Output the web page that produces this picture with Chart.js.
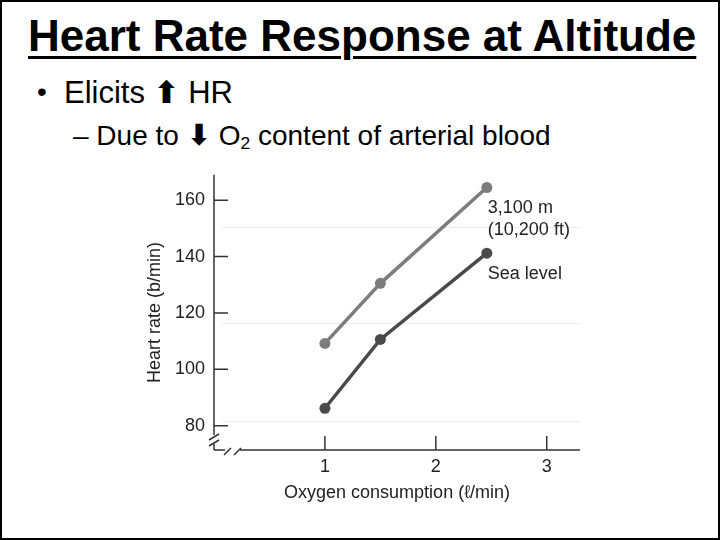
<!DOCTYPE html>
<html>
<head>
<meta charset="utf-8">
<script src="https://cdn.jsdelivr.net/npm/chart.js@4.4.0/dist/chart.umd.min.js"></script>
<style>
  html, body { margin: 0; padding: 0; background: #fff; }
  #slide { position: relative; width: 720px; height: 540px; box-sizing: border-box; border: 2px solid #000; overflow: hidden; font-family: Arial, "Liberation Sans", sans-serif; color: #000; }
  .t { position: absolute; white-space: nowrap; line-height: 1; }
  #title { left: 26px; top: 12px; font-size: 44px; font-weight: bold; text-decoration: underline; text-decoration-thickness: 3px; text-underline-offset: 5px; }
  #bullet { left: 35px; top: 76px; font-size: 28px; }
  #line1 { left: 62px; top: 75px; font-size: 31px; }
  #line2 { left: 71px; top: 119px; font-size: 28px; }
  .arr { font-family: "DejaVu Sans", sans-serif; font-weight: bold; }
  sub { font-size: 0.62em; vertical-align: -0.25em; line-height: 0; }
  #chartBox { position: absolute; left: 130px; top: 153px; }
</style>
</head>
<body>
<div id="slide">
  <div class="t" id="title">Heart Rate Response at Altitude</div>
  <div class="t" id="bullet">•</div>
  <div class="t" id="line1">Elicits <span class="arr" style="font-size:31px">⬆</span> HR</div>
  <div class="t" id="line2">– Due to <span class="arr" style="font-size:29px">⬇</span> O<sub>2</sub> content of arterial blood</div>
  <div id="chartBox"><canvas id="c" width="460" height="357"></canvas></div>
</div>
<script>
// ---- data ----
const xValues = [1, 1.5, 2.46];
const altitude = [109.2, 130.5, 164.5];
const seaLevel = [86.2, 110.6, 141.2];
const yTicks = [80, 100, 120, 140, 160];
const xTicks = [1, 2, 3];
const altitudeLabel = ["3,100 m", "(10,200 ft)"];
const seaLevelLabel = ["Sea level"];
const faintLines = [150.5, 116.5, 81.7];
const yTitle = "Heart rate (b/min)";
const xTitle = "Oxygen consumption (ℓ/min)";

const toPts = (ys) => xValues.map((x, i) => ({ x: x, y: ys[i] }));
const FONT = 'Arial, "Liberation Sans", sans-serif';
const AXIS = '#333';

const decor = {
  id: 'decor',
  beforeDatasetsDraw(chart) {
    const { ctx, chartArea: a, scales: { x, y } } = chart;
    ctx.save();
    // faint scan lines
    ctx.strokeStyle = '#ececec'; ctx.lineWidth = 1;
    faintLines.forEach(v => {
      const py = Math.round(y.getPixelForValue(v)) + 0.5;
      ctx.beginPath(); ctx.moveTo(a.left + 8, py); ctx.lineTo(a.right, py); ctx.stroke();
    });
    ctx.strokeStyle = AXIS; ctx.lineWidth = 1.5;
    const L = a.left, B = a.bottom;
    // y axis with break
    ctx.beginPath();
    ctx.moveTo(L, a.top); ctx.lineTo(L, B - 15);
    ctx.moveTo(L, B - 6); ctx.lineTo(L, B);
    // x axis with break
    ctx.moveTo(L, B); ctx.lineTo(L + 11, B);
    ctx.moveTo(L + 26, B); ctx.lineTo(a.right, B);
    // break slashes on y
    ctx.moveTo(L - 5, B - 10); ctx.lineTo(L + 5, B - 16);
    ctx.moveTo(L - 5, B - 4); ctx.lineTo(L + 5, B - 10);
    // break slashes on x
    ctx.moveTo(L + 10, B + 5); ctx.lineTo(L + 17, B - 2);
    ctx.moveTo(L + 20, B + 5); ctx.lineTo(L + 27, B - 2);
    // inner ticks
    yTicks.forEach(v => {
      const py = y.getPixelForValue(v);
      ctx.moveTo(L, py); ctx.lineTo(L + 14, py);
    });
    xTicks.forEach(v => {
      const px = x.getPixelForValue(v);
      ctx.moveTo(px, B); ctx.lineTo(px, B - 14);
    });
    ctx.stroke();
    ctx.restore();
  },
  afterDatasetsDraw(chart) {
    const { ctx } = chart;
    ctx.save();
    ctx.font = '18px ' + FONT;
    ctx.fillStyle = '#222';
    ctx.textAlign = 'left';
    ctx.textBaseline = 'middle';
    const p0 = chart.getDatasetMeta(0).data[xValues.length - 1];
    altitudeLabel.forEach((s, i) => ctx.fillText(s, p0.x + 1, p0.y + 21 + i * 22));
    const p1 = chart.getDatasetMeta(1).data[xValues.length - 1];
    seaLevelLabel.forEach((s, i) => ctx.fillText(s, p1.x + 1, p1.y + 21 + i * 22));
    ctx.restore();
  }
};

new Chart(document.getElementById('c'), {
  type: 'line',
  data: {
    datasets: [
      { label: '3,100 m (10,200 ft)', data: toPts(altitude), borderColor: '#7d7d7d', backgroundColor: '#7d7d7d', borderWidth: 3.5, pointRadius: 5.5, pointBorderWidth: 0, tension: 0 },
      { label: 'Sea level', data: toPts(seaLevel), borderColor: '#4a4a4a', backgroundColor: '#4a4a4a', borderWidth: 3.5, pointRadius: 5.5, pointBorderWidth: 0, tension: 0 }
    ]
  },
  options: {
    responsive: false,
    animation: false,
    layout: { padding: { top: 10, right: 12, left: 0, bottom: 0 } },
    plugins: { legend: { display: false }, tooltip: { enabled: false } },
    scales: {
      x: {
        type: 'linear', min: 0, max: 3.3,
        grid: { display: false, drawTicks: false }, border: { display: false },
        afterBuildTicks: (s) => { s.ticks = xTicks.map(v => ({ value: v })); },
        afterFit: (s) => { s.height = 62; },
        ticks: { font: { size: 18, family: FONT }, color: '#222', padding: 6, maxRotation: 0 },
        title: { display: true, text: xTitle, font: { size: 18, family: FONT }, color: '#222', padding: { top: 0, bottom: 8 } }
      },
      y: {
        type: 'linear', min: 71.4, max: 169,
        grid: { display: false, drawTicks: false }, border: { display: false },
        afterBuildTicks: (s) => { s.ticks = yTicks.map(v => ({ value: v })); },
        afterFit: (s) => { s.width = 82; },
        ticks: { font: { size: 18, family: FONT }, color: '#222', padding: 9 },
        title: { display: true, text: yTitle, font: { size: 18, family: FONT }, color: '#222', padding: { top: 12, bottom: 0 } }
      }
    }
  },
  plugins: [decor]
});
</script>
</body>
</html>
